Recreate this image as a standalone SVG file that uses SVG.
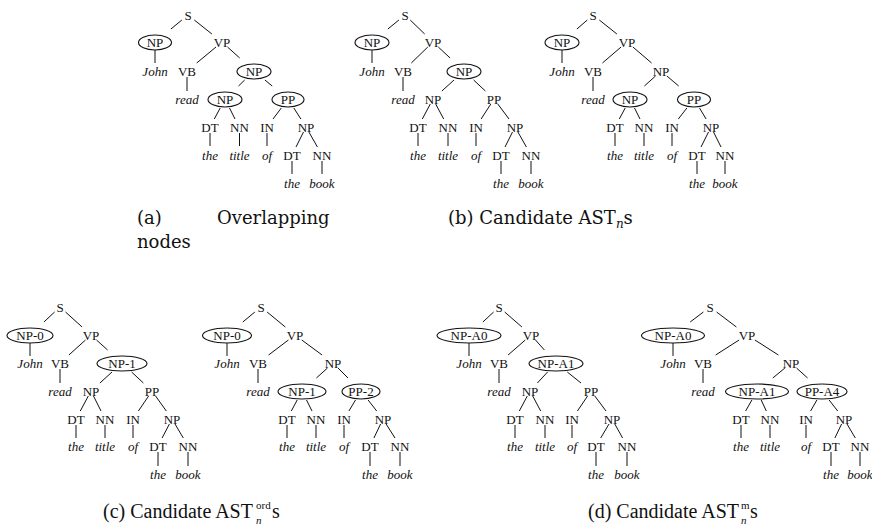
<svg xmlns="http://www.w3.org/2000/svg" width="872" height="528" viewBox="0 0 872 528">
<style>
.t{font-family:"Liberation Serif","Times New Roman",serif;font-size:13px;text-anchor:middle;fill:#111}
.w{font-style:italic}
.e{fill:none;stroke:#111;stroke-width:1.1}
#connectors line{stroke:#111;stroke-width:1}
.cap{font-family:"DejaVu Serif",serif;font-size:18px;fill:#111}
.cap2{font-family:"Liberation Serif","Times New Roman",serif;font-size:20px;fill:#111}
.sm{font-size:12px}
.sm2{font-size:11px}
</style>
<rect width="872" height="528" fill="#fff"/>
<g id="connectors">
<!-- tree a -->
<line x1="181.9" y1="20" x2="170.9" y2="29"/>
<line x1="194.3" y1="20" x2="211.9" y2="34"/>
<line x1="155" y1="50" x2="155" y2="63"/>
<line x1="216" y1="47" x2="196.7" y2="63"/>
<line x1="227.5" y1="47" x2="239.7" y2="58"/>
<line x1="187" y1="77" x2="187" y2="91"/>
<line x1="244.7" y1="80" x2="238.5" y2="86"/>
<line x1="264.9" y1="80" x2="272.2" y2="86"/>
<line x1="220.2" y1="108" x2="214.3" y2="119"/>
<line x1="229.5" y1="108" x2="235" y2="119"/>
<line x1="281.3" y1="108" x2="273" y2="119"/>
<line x1="293.8" y1="108" x2="300.9" y2="119"/>
<line x1="210" y1="133" x2="210" y2="146"/>
<line x1="239.5" y1="133" x2="239.5" y2="146"/>
<line x1="267" y1="133" x2="267" y2="146"/>
<line x1="303.5" y1="132" x2="296" y2="147"/>
<line x1="308.9" y1="132" x2="317.4" y2="147"/>
<line x1="292" y1="161" x2="292" y2="174"/>
<line x1="322" y1="161" x2="322" y2="174"/>
<!-- tree b -->
<line x1="398.9" y1="20" x2="387.9" y2="29"/>
<line x1="410.2" y1="20" x2="424.7" y2="34"/>
<line x1="372" y1="50" x2="372" y2="63"/>
<line x1="427.8" y1="47" x2="411.3" y2="63"/>
<line x1="438.3" y1="47" x2="450.1" y2="58"/>
<line x1="403" y1="77" x2="403" y2="91"/>
<line x1="454" y1="80" x2="441.9" y2="91"/>
<line x1="473.6" y1="80" x2="485.4" y2="91"/>
<line x1="430.3" y1="104" x2="422.3" y2="119"/>
<line x1="435.7" y1="104" x2="443.7" y2="119"/>
<line x1="490.8" y1="104" x2="481.1" y2="119"/>
<line x1="497.8" y1="104" x2="509" y2="119"/>
<line x1="418" y1="133" x2="418" y2="146"/>
<line x1="448" y1="133" x2="448" y2="146"/>
<line x1="476" y1="133" x2="476" y2="146"/>
<line x1="512.5" y1="132" x2="505" y2="147"/>
<line x1="517.9" y1="132" x2="526.4" y2="147"/>
<line x1="501" y1="161" x2="501" y2="174"/>
<line x1="531" y1="161" x2="531" y2="174"/>
<!-- tree b2 (top right) -->
<line x1="587.3" y1="20" x2="576.9" y2="29"/>
<line x1="599.3" y1="20" x2="616.9" y2="34"/>
<line x1="562" y1="50" x2="562" y2="63"/>
<line x1="621.1" y1="47" x2="602.4" y2="63"/>
<line x1="632.9" y1="47" x2="651.6" y2="63"/>
<line x1="593" y1="77" x2="593" y2="91"/>
<line x1="655.5" y1="76" x2="644.4" y2="86"/>
<line x1="666.9" y1="76" x2="678.7" y2="86"/>
<line x1="625.2" y1="108" x2="619.3" y2="119"/>
<line x1="634.5" y1="108" x2="640" y2="119"/>
<line x1="686.9" y1="108" x2="678.3" y2="119"/>
<line x1="699.5" y1="108" x2="706.1" y2="119"/>
<line x1="615" y1="133" x2="615" y2="146"/>
<line x1="644" y1="133" x2="644" y2="146"/>
<line x1="672" y1="133" x2="672" y2="146"/>
<line x1="708.5" y1="132" x2="701" y2="147"/>
<line x1="713.5" y1="132" x2="721" y2="147"/>
<line x1="697" y1="161" x2="697" y2="174"/>
<line x1="725" y1="161" x2="725" y2="174"/>
<!-- tree c1 -->
<line x1="54.6" y1="312" x2="43.9" y2="322"/>
<line x1="65.5" y1="312" x2="82.1" y2="327"/>
<line x1="30" y1="343" x2="30" y2="356"/>
<line x1="85.5" y1="340" x2="68.9" y2="355"/>
<line x1="96.5" y1="340" x2="107.6" y2="350"/>
<line x1="60" y1="369" x2="60" y2="383"/>
<line x1="112" y1="372" x2="99.9" y2="383"/>
<line x1="131.6" y1="372" x2="143.4" y2="383"/>
<line x1="88.3" y1="396" x2="80.3" y2="411"/>
<line x1="93.5" y1="396" x2="101" y2="411"/>
<line x1="148.6" y1="396" x2="138.4" y2="411"/>
<line x1="155.6" y1="396" x2="166.3" y2="411"/>
<line x1="76" y1="425" x2="76" y2="438"/>
<line x1="105" y1="425" x2="105" y2="438"/>
<line x1="133" y1="425" x2="133" y2="438"/>
<line x1="169.4" y1="424" x2="162.1" y2="438"/>
<line x1="175" y1="424" x2="183.3" y2="438"/>
<line x1="158" y1="452" x2="158" y2="466"/>
<line x1="188" y1="452" x2="188" y2="466"/>
<!-- tree c2 -->
<line x1="254.9" y1="312" x2="242.8" y2="322"/>
<line x1="267.1" y1="312" x2="285.3" y2="327"/>
<line x1="227" y1="343" x2="227" y2="356"/>
<line x1="288.4" y1="340" x2="268.6" y2="355"/>
<line x1="301.8" y1="340" x2="322.1" y2="355"/>
<line x1="258" y1="369" x2="258" y2="383"/>
<line x1="327.5" y1="368" x2="316.4" y2="378"/>
<line x1="338" y1="368" x2="348" y2="378"/>
<line x1="297.2" y1="400" x2="291.3" y2="411"/>
<line x1="306.5" y1="400" x2="312" y2="411"/>
<line x1="355.5" y1="400" x2="348.9" y2="411"/>
<line x1="368.1" y1="400" x2="376.7" y2="411"/>
<line x1="287" y1="425" x2="287" y2="438"/>
<line x1="316" y1="425" x2="316" y2="438"/>
<line x1="344" y1="425" x2="344" y2="438"/>
<line x1="380.6" y1="424" x2="373.9" y2="438"/>
<line x1="386.1" y1="424" x2="395" y2="438"/>
<line x1="370" y1="452" x2="370" y2="466"/>
<line x1="400" y1="452" x2="400" y2="466"/>
<!-- tree d1 -->
<line x1="493.6" y1="312" x2="482.9" y2="322"/>
<line x1="504.7" y1="312" x2="521.9" y2="327"/>
<line x1="469" y1="343" x2="469" y2="356"/>
<line x1="525.3" y1="340" x2="508.1" y2="355"/>
<line x1="535.5" y1="340" x2="544.4" y2="350"/>
<line x1="499" y1="369" x2="499" y2="383"/>
<line x1="547.6" y1="372" x2="537.4" y2="383"/>
<line x1="567.3" y1="372" x2="581" y2="383"/>
<line x1="527.3" y1="396" x2="519.3" y2="411"/>
<line x1="532.7" y1="396" x2="540.7" y2="411"/>
<line x1="587.6" y1="396" x2="577.4" y2="411"/>
<line x1="594.8" y1="396" x2="606" y2="411"/>
<line x1="515" y1="425" x2="515" y2="438"/>
<line x1="545" y1="425" x2="545" y2="438"/>
<line x1="572" y1="425" x2="572" y2="438"/>
<line x1="609" y1="424" x2="600.7" y2="438"/>
<line x1="614.8" y1="424" x2="622.6" y2="438"/>
<line x1="596" y1="452" x2="596" y2="466"/>
<line x1="627" y1="452" x2="627" y2="466"/>
<!-- tree d2 -->
<line x1="703.4" y1="312" x2="690.2" y2="322"/>
<line x1="716.6" y1="312" x2="736.4" y2="327"/>
<line x1="673" y1="343" x2="673" y2="356"/>
<line x1="739.1" y1="340" x2="715.6" y2="355"/>
<line x1="754.9" y1="340" x2="778.4" y2="355"/>
<line x1="703" y1="369" x2="703" y2="383"/>
<line x1="784.9" y1="368" x2="772.8" y2="378"/>
<line x1="796.5" y1="368" x2="807.6" y2="378"/>
<line x1="751.9" y1="400" x2="745.6" y2="411"/>
<line x1="761.2" y1="400" x2="766.3" y2="411"/>
<line x1="816.9" y1="400" x2="810.6" y2="411"/>
<line x1="829.1" y1="400" x2="837.7" y2="411"/>
<line x1="741" y1="425" x2="741" y2="438"/>
<line x1="770" y1="425" x2="770" y2="438"/>
<line x1="806" y1="425" x2="806" y2="438"/>
<line x1="841.6" y1="424" x2="834.9" y2="438"/>
<line x1="847" y1="424" x2="855.3" y2="438"/>
<line x1="831" y1="452" x2="831" y2="466"/>
<line x1="860" y1="452" x2="860" y2="466"/>
</g>

<!-- Tree a -->
<g id="tree-a" class="t">
<g id="a-S"><text x="188" y="19.5">S</text></g>
<g id="a-NPsubj"><ellipse class="e" cx="155" cy="42.5" rx="16.5" ry="7.5"/><text x="155" y="46.5">NP</text></g>
<g id="a-VP"><text x="222" y="46.5">VP</text></g>
<g id="a-John"><text class="w" x="155" y="75.5">John</text></g>
<g id="a-VB"><text x="187" y="75.5">VB</text></g>
<g id="a-NPobj"><ellipse class="e" cx="254" cy="71.5" rx="17" ry="7.5"/><text x="254" y="75.5">NP</text></g>
<g id="a-read"><text class="w" x="187" y="103.5">read</text></g>
<g id="a-NPin"><ellipse class="e" cx="225" cy="99.5" rx="17" ry="7.5"/><text x="225" y="103.5">NP</text></g>
<g id="a-PP"><ellipse class="e" cx="288" cy="99.5" rx="16" ry="7.5"/><text x="288" y="103.5">PP</text></g>
<g id="a-DT"><text x="210" y="131.5">DT</text></g>
<g id="a-NN"><text x="239.5" y="131.5">NN</text></g>
<g id="a-IN"><text x="267" y="131.5">IN</text></g>
<g id="a-NP2"><text x="306" y="131.5">NP</text></g>
<g id="a-the"><text class="w" x="210" y="159.5">the</text></g>
<g id="a-title"><text class="w" x="239.5" y="159.5">title</text></g>
<g id="a-of"><text class="w" x="267" y="159.5">of</text></g>
<g id="a-DT2"><text x="292" y="159.5">DT</text></g>
<g id="a-NN2"><text x="322" y="159.5">NN</text></g>
<g id="a-the2"><text class="w" x="292" y="187.5">the</text></g>
<g id="a-book"><text class="w" x="322" y="187.5">book</text></g>
</g>

<!-- Tree b -->
<g id="tree-b" class="t">
<g id="b-S"><text x="405" y="19.5">S</text></g>
<g id="b-NPsubj"><ellipse class="e" cx="372" cy="42.5" rx="17" ry="7.5"/><text x="372" y="46.5">NP</text></g>
<g id="b-VP"><text x="433" y="46.5">VP</text></g>
<g id="b-John"><text class="w" x="372" y="75.5">John</text></g>
<g id="b-VB"><text x="403" y="75.5">VB</text></g>
<g id="b-NPobj"><ellipse class="e" cx="464" cy="71.5" rx="17" ry="7.5"/><text x="464" y="75.5">NP</text></g>
<g id="b-read"><text class="w" x="403" y="103.5">read</text></g>
<g id="b-NPin"><text x="433" y="103.5">NP</text></g>
<g id="b-PP"><text x="494" y="103.5">PP</text></g>
<g id="b-DT"><text x="418" y="131.5">DT</text></g>
<g id="b-NN"><text x="448" y="131.5">NN</text></g>
<g id="b-IN"><text x="476" y="131.5">IN</text></g>
<g id="b-NP2"><text x="515" y="131.5">NP</text></g>
<g id="b-the"><text class="w" x="418" y="159.5">the</text></g>
<g id="b-title"><text class="w" x="448" y="159.5">title</text></g>
<g id="b-of"><text class="w" x="476" y="159.5">of</text></g>
<g id="b-DT2"><text x="501" y="159.5">DT</text></g>
<g id="b-NN2"><text x="531" y="159.5">NN</text></g>
<g id="b-the2"><text class="w" x="501" y="187.5">the</text></g>
<g id="b-book"><text class="w" x="531" y="187.5">book</text></g>
</g>

<!-- Tree b2 -->
<g id="tree-b2" class="t">
<g id="b2-S"><text x="593" y="19.5">S</text></g>
<g id="b2-NPsubj"><ellipse class="e" cx="562" cy="42.5" rx="17" ry="7.5"/><text x="562" y="46.5">NP</text></g>
<g id="b2-VP"><text x="627" y="46.5">VP</text></g>
<g id="b2-John"><text class="w" x="562" y="75.5">John</text></g>
<g id="b2-VB"><text x="593" y="75.5">VB</text></g>
<g id="b2-NPobj"><text x="661" y="75.5">NP</text></g>
<g id="b2-read"><text class="w" x="593" y="103.5">read</text></g>
<g id="b2-NPin"><ellipse class="e" cx="630" cy="99.5" rx="17" ry="7.5"/><text x="630" y="103.5">NP</text></g>
<g id="b2-PP"><ellipse class="e" cx="694" cy="99.5" rx="16.5" ry="7.5"/><text x="694" y="103.5">PP</text></g>
<g id="b2-DT"><text x="615" y="131.5">DT</text></g>
<g id="b2-NN"><text x="644" y="131.5">NN</text></g>
<g id="b2-IN"><text x="672" y="131.5">IN</text></g>
<g id="b2-NP2"><text x="711" y="131.5">NP</text></g>
<g id="b2-the"><text class="w" x="615" y="159.5">the</text></g>
<g id="b2-title"><text class="w" x="644" y="159.5">title</text></g>
<g id="b2-of"><text class="w" x="672" y="159.5">of</text></g>
<g id="b2-DT2"><text x="697" y="159.5">DT</text></g>
<g id="b2-NN2"><text x="725" y="159.5">NN</text></g>
<g id="b2-the2"><text class="w" x="697" y="187.5">the</text></g>
<g id="b2-book"><text class="w" x="725" y="187.5">book</text></g>
</g>

<!-- Tree c1 -->
<g id="tree-c1" class="t">
<g id="c1-S"><text x="60" y="311.5">S</text></g>
<g id="c1-NPsubj"><ellipse class="e" cx="30" cy="335.5" rx="23" ry="7.5"/><text x="30" y="339.5">NP-0</text></g>
<g id="c1-VP"><text x="91" y="339.5">VP</text></g>
<g id="c1-John"><text class="w" x="30" y="367.5">John</text></g>
<g id="c1-VB"><text x="60" y="367.5">VB</text></g>
<g id="c1-NPobj"><ellipse class="e" cx="122" cy="363.5" rx="25" ry="7.5"/><text x="122" y="367.5">NP-1</text></g>
<g id="c1-read"><text class="w" x="60" y="395.5">read</text></g>
<g id="c1-NPin"><text x="91" y="395.5">NP</text></g>
<g id="c1-PP"><text x="152" y="395.5">PP</text></g>
<g id="c1-DT"><text x="76" y="423.5">DT</text></g>
<g id="c1-NN"><text x="105" y="423.5">NN</text></g>
<g id="c1-IN"><text x="133" y="423.5">IN</text></g>
<g id="c1-NP2"><text x="172" y="423.5">NP</text></g>
<g id="c1-the"><text class="w" x="76" y="450.5">the</text></g>
<g id="c1-title"><text class="w" x="105" y="450.5">title</text></g>
<g id="c1-of"><text class="w" x="133" y="450.5">of</text></g>
<g id="c1-DT2"><text x="158" y="450.5">DT</text></g>
<g id="c1-NN2"><text x="188" y="450.5">NN</text></g>
<g id="c1-the2"><text class="w" x="158" y="478.5">the</text></g>
<g id="c1-book"><text class="w" x="188" y="478.5">book</text></g>
</g>

<!-- Tree c2 -->
<g id="tree-c2" class="t">
<g id="c2-S"><text x="261" y="311.5">S</text></g>
<g id="c2-NPsubj"><ellipse class="e" cx="227" cy="335.5" rx="24.5" ry="7.5"/><text x="227" y="339.5">NP-0</text></g>
<g id="c2-VP"><text x="295" y="339.5">VP</text></g>
<g id="c2-John"><text class="w" x="227" y="367.5">John</text></g>
<g id="c2-VB"><text x="258" y="367.5">VB</text></g>
<g id="c2-NPobj"><text x="333" y="367.5">NP</text></g>
<g id="c2-read"><text class="w" x="258" y="395.5">read</text></g>
<g id="c2-NPin"><ellipse class="e" cx="302" cy="391.5" rx="24" ry="7.5"/><text x="302" y="395.5">NP-1</text></g>
<g id="c2-PP"><ellipse class="e" cx="361" cy="391.5" rx="19" ry="7.5"/><text x="361" y="395.5">PP-2</text></g>
<g id="c2-DT"><text x="287" y="423.5">DT</text></g>
<g id="c2-NN"><text x="316" y="423.5">NN</text></g>
<g id="c2-IN"><text x="344" y="423.5">IN</text></g>
<g id="c2-NP2"><text x="383" y="423.5">NP</text></g>
<g id="c2-the"><text class="w" x="287" y="450.5">the</text></g>
<g id="c2-title"><text class="w" x="316" y="450.5">title</text></g>
<g id="c2-of"><text class="w" x="344" y="450.5">of</text></g>
<g id="c2-DT2"><text x="370" y="450.5">DT</text></g>
<g id="c2-NN2"><text x="400" y="450.5">NN</text></g>
<g id="c2-the2"><text class="w" x="370" y="478.5">the</text></g>
<g id="c2-book"><text class="w" x="400" y="478.5">book</text></g>
</g>

<!-- Tree d1 -->
<g id="tree-d1" class="t">
<g id="d1-S"><text x="499" y="311.5">S</text></g>
<g id="d1-NPsubj"><ellipse class="e" cx="469" cy="335.5" rx="32" ry="7.5"/><text x="469" y="339.5">NP-A0</text></g>
<g id="d1-VP"><text x="531" y="339.5">VP</text></g>
<g id="d1-John"><text class="w" x="469" y="367.5">John</text></g>
<g id="d1-VB"><text x="499" y="367.5">VB</text></g>
<g id="d1-NPobj"><ellipse class="e" cx="556" cy="363.5" rx="27" ry="7.5"/><text x="556" y="367.5">NP-A1</text></g>
<g id="d1-read"><text class="w" x="499" y="395.5">read</text></g>
<g id="d1-NPin"><text x="530" y="395.5">NP</text></g>
<g id="d1-PP"><text x="591" y="395.5">PP</text></g>
<g id="d1-DT"><text x="515" y="423.5">DT</text></g>
<g id="d1-NN"><text x="545" y="423.5">NN</text></g>
<g id="d1-IN"><text x="572" y="423.5">IN</text></g>
<g id="d1-NP2"><text x="612" y="423.5">NP</text></g>
<g id="d1-the"><text class="w" x="515" y="450.5">the</text></g>
<g id="d1-title"><text class="w" x="545" y="450.5">title</text></g>
<g id="d1-of"><text class="w" x="572" y="450.5">of</text></g>
<g id="d1-DT2"><text x="596" y="450.5">DT</text></g>
<g id="d1-NN2"><text x="627" y="450.5">NN</text></g>
<g id="d1-the2"><text class="w" x="596" y="478.5">the</text></g>
<g id="d1-book"><text class="w" x="627" y="478.5">book</text></g>
</g>

<!-- Tree d2 -->
<g id="tree-d2" class="t">
<g id="d2-S"><text x="710" y="311.5">S</text></g>
<g id="d2-NPsubj"><ellipse class="e" cx="673" cy="335.5" rx="31.5" ry="7.5"/><text x="673" y="339.5">NP-A0</text></g>
<g id="d2-VP"><text x="747" y="339.5">VP</text></g>
<g id="d2-John"><text class="w" x="673" y="367.5">John</text></g>
<g id="d2-VB"><text x="703" y="367.5">VB</text></g>
<g id="d2-NPobj"><text x="791" y="367.5">NP</text></g>
<g id="d2-read"><text class="w" x="703" y="395.5">read</text></g>
<g id="d2-NPin"><ellipse class="e" cx="757" cy="391.5" rx="31.5" ry="7.5"/><text x="757" y="395.5">NP-A1</text></g>
<g id="d2-PP"><ellipse class="e" cx="822" cy="391.5" rx="25" ry="7.5"/><text x="822" y="395.5">PP-A4</text></g>
<g id="d2-DT"><text x="741" y="423.5">DT</text></g>
<g id="d2-NN"><text x="770" y="423.5">NN</text></g>
<g id="d2-IN"><text x="806" y="423.5">IN</text></g>
<g id="d2-NP2"><text x="844" y="423.5">NP</text></g>
<g id="d2-the"><text class="w" x="741" y="450.5">the</text></g>
<g id="d2-title"><text class="w" x="770" y="450.5">title</text></g>
<g id="d2-of"><text class="w" x="806" y="450.5">of</text></g>
<g id="d2-DT2"><text x="831" y="450.5">DT</text></g>
<g id="d2-NN2"><text x="860" y="450.5">NN</text></g>
<g id="d2-the2"><text class="w" x="831" y="478.5">the</text></g>
<g id="d2-book"><text class="w" x="860" y="478.5">book</text></g>
</g>

<!-- Captions -->
<g id="captions">
<g class="cap">
<text x="137" y="224">(a)</text>
<text x="217" y="224">Overlapping</text>
<text x="137" y="248">nodes</text>
<text x="448" y="224">(b) Candidate AST<tspan class="sm" font-style="italic" dy="4">n</tspan><tspan dy="-4">s</tspan></text>
</g>
<g class="cap2">
<text x="103" y="518">(c) Candidate AST</text>
<text class="sm2" x="256" y="509">ord</text>
<text class="sm2" font-style="italic" x="256" y="524">n</text>
<text x="272" y="518">s</text>
<text x="588" y="518">(d) Candidate AST</text>
<text class="sm2" x="741" y="509">m</text>
<text class="sm2" font-style="italic" x="741" y="524">n</text>
<text x="750" y="518">s</text>
</g>
</g>
</svg>
